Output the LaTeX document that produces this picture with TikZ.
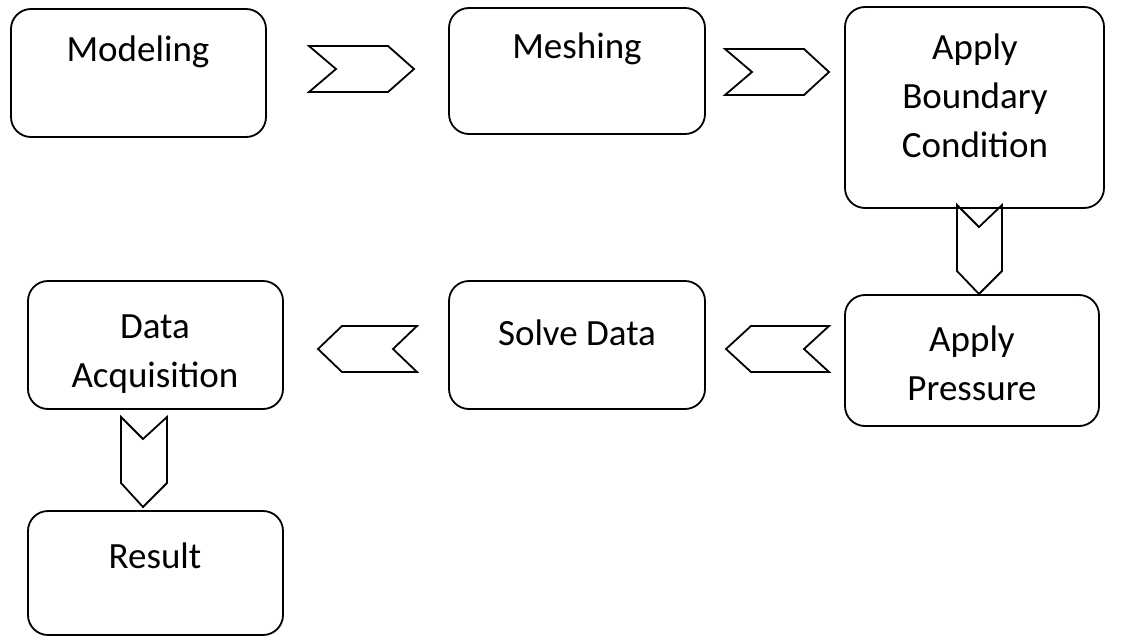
\documentclass[tikz,border=0pt]{standalone}
\usepackage{fontspec}
\setmainfont{Carlito}
\begin{document}
\begin{tikzpicture}[x=1pt,y=-1pt,
  box/.style={draw, line width=1.8pt, rounded corners=20pt, inner sep=0pt},
  lbl/.style={font=\fontsize{37}{49}\selectfont, align=center, anchor=base, inner sep=0pt},
  chev/.style={draw, line width=1.8pt, line join=miter}]
\useasboundingbox (0,0) rectangle (1140,639);
% boxes
\node[box, minimum width=255pt, minimum height=128pt] (mod) at (138.5,73) {};
\node[box, minimum width=256pt, minimum height=126pt] (mesh) at (577,71) {};
\node[box, minimum width=259pt, minimum height=201pt] (abc) at (974.5,107.5) {};
\node[box, minimum width=254pt, minimum height=131pt] (ap) at (972,360.5) {};
\node[box, minimum width=256pt, minimum height=128pt] (sd) at (577,345) {};
\node[box, minimum width=255pt, minimum height=128pt] (da) at (155.5,345) {};
\node[box, minimum width=255pt, minimum height=124pt] (res) at (155.5,573) {};
% labels (base = baseline of last line)
\node[lbl] (modt) at (138,62) {Modeling};
\node[lbl] (mesht) at (577,59) {Meshing};
\node[lbl] (abct) at (975,158) {Apply\\Boundary\\Condition};
\node[lbl] (apt) at (972,400) {Apply\\Pressure};
\node[lbl] (sdt) at (577,345) {Solve Data};
\node[lbl] (dat) at (155,387) {Data\\Acquisition};
\node[lbl] (rest) at (155,568) {Result};
% chevrons
\draw[chev] (309,46) -- (336,69) -- (309,92) -- (388,92) -- (414,69) -- (388,46) -- cycle;
\draw[chev] (725,49) -- (752,72) -- (725,95) -- (804,95) -- (829,72) -- (804,49) -- cycle;
\draw[chev] (957,205) -- (979,227) -- (1002,205) -- (1002,271) -- (979,294) -- (957,271) -- cycle;
\draw[chev] (829,326) -- (804,349) -- (829,372) -- (751,372) -- (726,349) -- (751,326) -- cycle;
\draw[chev] (417,326) -- (393,349) -- (417,372) -- (342,372) -- (318,349) -- (342,326) -- cycle;
\draw[chev] (121,417) -- (143,439) -- (167,417) -- (167,483) -- (143,507) -- (121,483) -- cycle;
\end{tikzpicture}
\end{document}
